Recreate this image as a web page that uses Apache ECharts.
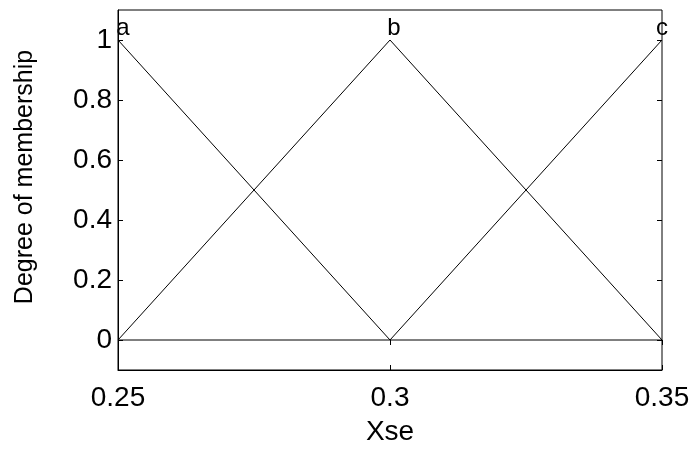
<!DOCTYPE html>
<html>
<head>
<meta charset="utf-8">
<script src="https://cdn.jsdelivr.net/npm/echarts@6/dist/echarts.min.js"></script>
<style>
  html, body { margin: 0; padding: 0; background: #fff; }
  #chart { width: 698px; height: 451px; }
</style>
</head>
<body>
<div id="chart"></div>
<script>
// Triangular membership functions over Xse
const xPoints = [0.25, 0.3, 0.35];
const memA = [1, 0, 0];
const memB = [0, 1, 0];
const memC = [0, 0, 1];
const setNames = ['a', 'b', 'c'];
const xTicks = [0.25, 0.3, 0.35];
const yTicks = [0, 0.2, 0.4, 0.6, 0.8, 1];

const FONT = 'Liberation Sans';
const memberships = [memA, memB, memC];
const labelOffsets = [[5, 0], [4, 0], [0, 0]];

const series = memberships.map(function (vals, i) {
  return {
    type: 'line',
    name: setNames[i],
    symbol: 'circle',
    symbolSize: 0,
    showSymbol: true,
    itemStyle: { color: '#000' },
    lineStyle: { color: '#000', width: 1 },
    label: { show: false },
    data: xPoints.map(function (x, j) {
      const item = { value: [x, vals[j]] };
      if (vals[j] === 1) {
        item.label = {
          show: true,
          position: 'top',
          distance: 0,
          offset: labelOffsets[i],
          formatter: setNames[i],
          color: '#000',
          fontFamily: FONT,
          fontSize: 24
        };
      }
      return item;
    })
  };
});

const chart = echarts.init(document.getElementById('chart'), null, { renderer: 'canvas' });
chart.setOption({
  animation: false,
  backgroundColor: '#fff',
  grid: {
    left: 118, right: 36, top: 10, bottom: 79,
    show: true, borderColor: '#000', borderWidth: 1, backgroundColor: 'transparent'
  },
  xAxis: [{
    type: 'value',
    min: 0.25, max: 0.35,
    name: 'Xse',
    nameLocation: 'middle',
    nameGap: 48,
    nameTextStyle: { color: '#000', fontFamily: FONT, fontSize: 28 },
    axisLine: { onZero: false, lineStyle: { color: '#000' } },
    axisTick: { inside: true, length: 5, customValues: xTicks, lineStyle: { color: '#000' } },
    axisLabel: { customValues: xTicks, color: '#000', fontFamily: FONT, fontSize: 28, margin: 14,
                 formatter: function (v) { return String(v); } },
    splitLine: { show: false }
  }, {
    type: 'value',
    position: 'top',
    min: 0.25, max: 0.35,
    axisLine: { show: false },
    axisTick: { inside: true, length: 5, customValues: xTicks, lineStyle: { color: '#000' } },
    axisLabel: { show: false },
    splitLine: { show: false }
  }],
  yAxis: [{
    type: 'value',
    min: -0.1, max: 1.1,
    name: 'Degree of membership',
    nameLocation: 'middle',
    nameGap: 80,
    nameTextStyle: { color: '#000', fontFamily: FONT, fontSize: 25, padding: [0, 0, 0, 26] },
    axisLine: { onZero: false, lineStyle: { color: '#000' } },
    axisTick: { inside: true, length: 5, customValues: yTicks, lineStyle: { color: '#000' } },
    axisLabel: { customValues: yTicks, color: '#000', fontFamily: FONT, fontSize: 28, margin: 6,
                 formatter: function (v) { return String(v); } },
    splitLine: { show: false }
  }, {
    type: 'value',
    position: 'right',
    min: -0.1, max: 1.1,
    axisLine: { show: false },
    axisTick: { inside: true, length: 5, customValues: yTicks, lineStyle: { color: '#000' } },
    axisLabel: { show: false },
    splitLine: { show: false }
  }],
  series: series
});
</script>
</body>
</html>
